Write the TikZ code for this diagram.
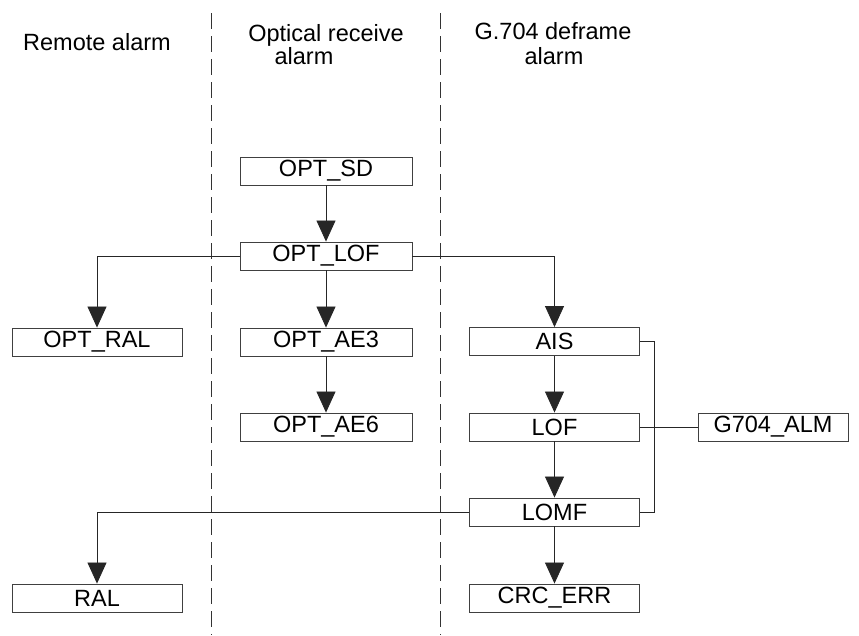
\documentclass[tikz,border=0pt]{standalone}
\usepackage{fontspec}
\setmainfont{Liberation Sans}
\usetikzlibrary{arrows.meta,calc}
\begin{document}
\begin{tikzpicture}[x=1pt,y=-1pt,
  abox/.style={draw=black!75,line width=0.9pt,minimum height=28pt,inner sep=0pt,font=\fontsize{23.5}{27}\selectfont},
  wbox/.style={abox,minimum width=172pt},
  nbox/.style={abox,minimum width=170pt},
  conn/.style={draw=black!85,line width=0.8pt},
  arr/.style={conn,-{Triangle[width=19pt,length=21pt]}},
  sep/.style={draw=black!80,line width=0.8pt,dash pattern=on 16pt off 7pt},
  head/.style={anchor=base,inner sep=0pt,font=\fontsize{23.5}{27}\selectfont}]
\useasboundingbox (0,0) rectangle (859,635);
% column separators
\coordinate (d1t) at (211,13); \coordinate (d1b) at (211,635);
\coordinate (d2t) at (440,13); \coordinate (d2b) at (440,635);
\draw[sep] (d1t) -- (d1b);
\draw[sep] (d2t) -- (d2b);
% headings
\node[head] (h1) at (97,50) {Remote alarm};
\node[head] (h2a) at (326,41) {Optical receive};
\node[head] (h2b) at (304,64) {alarm};
\node[head] (h3a) at (553,39) {G.704 deframe};
\node[head] (h3b) at (554,64) {alarm};
% boxes
\node[wbox] (sd) at (326,171) {OPT\_SD};
\node[wbox] (olof) at (326,256) {OPT\_LOF};
\node[nbox] (oral) at (97,342) {OPT\_RAL};
\node[wbox] (ae3) at (326,342) {OPT\_AE3};
\node[wbox] (ae6) at (326,427) {OPT\_AE6};
\node[nbox] (ais) at (554.5,341.5) {AIS};
\node[nbox] (lof) at (554.5,427) {LOF};
\node[abox,minimum width=150pt] (g704) at (773,427) {G704\_ALM};
\node[nbox] (lomf) at (554.5,512) {LOMF};
\node[nbox] (crc) at (554.5,598) {CRC\_ERR};
\node[nbox] (ral) at (97,598) {RAL};
% connectors
\draw[arr] (sd) -- (olof);
\draw[arr] (olof) -- (ae3);
\draw[arr] (ae3) -- (ae6);
\draw[arr] (olof.west) -| (oral.north);
\draw[arr] (olof.east) -| (ais.north);
\draw[arr] (ais) -- (lof);
\draw[arr] (lof) -- (lomf);
\draw[arr] (lomf) -- (crc);
\draw[arr] (lomf.west) -| (ral.north);
\coordinate (bx) at (654,0);
\draw[conn] (ais.east) -- (ais.east -| bx) -- (lomf.east -| bx) -- (lomf.east);
\draw[conn] (lof.east) -- (g704.west);
\end{tikzpicture}
\end{document}
